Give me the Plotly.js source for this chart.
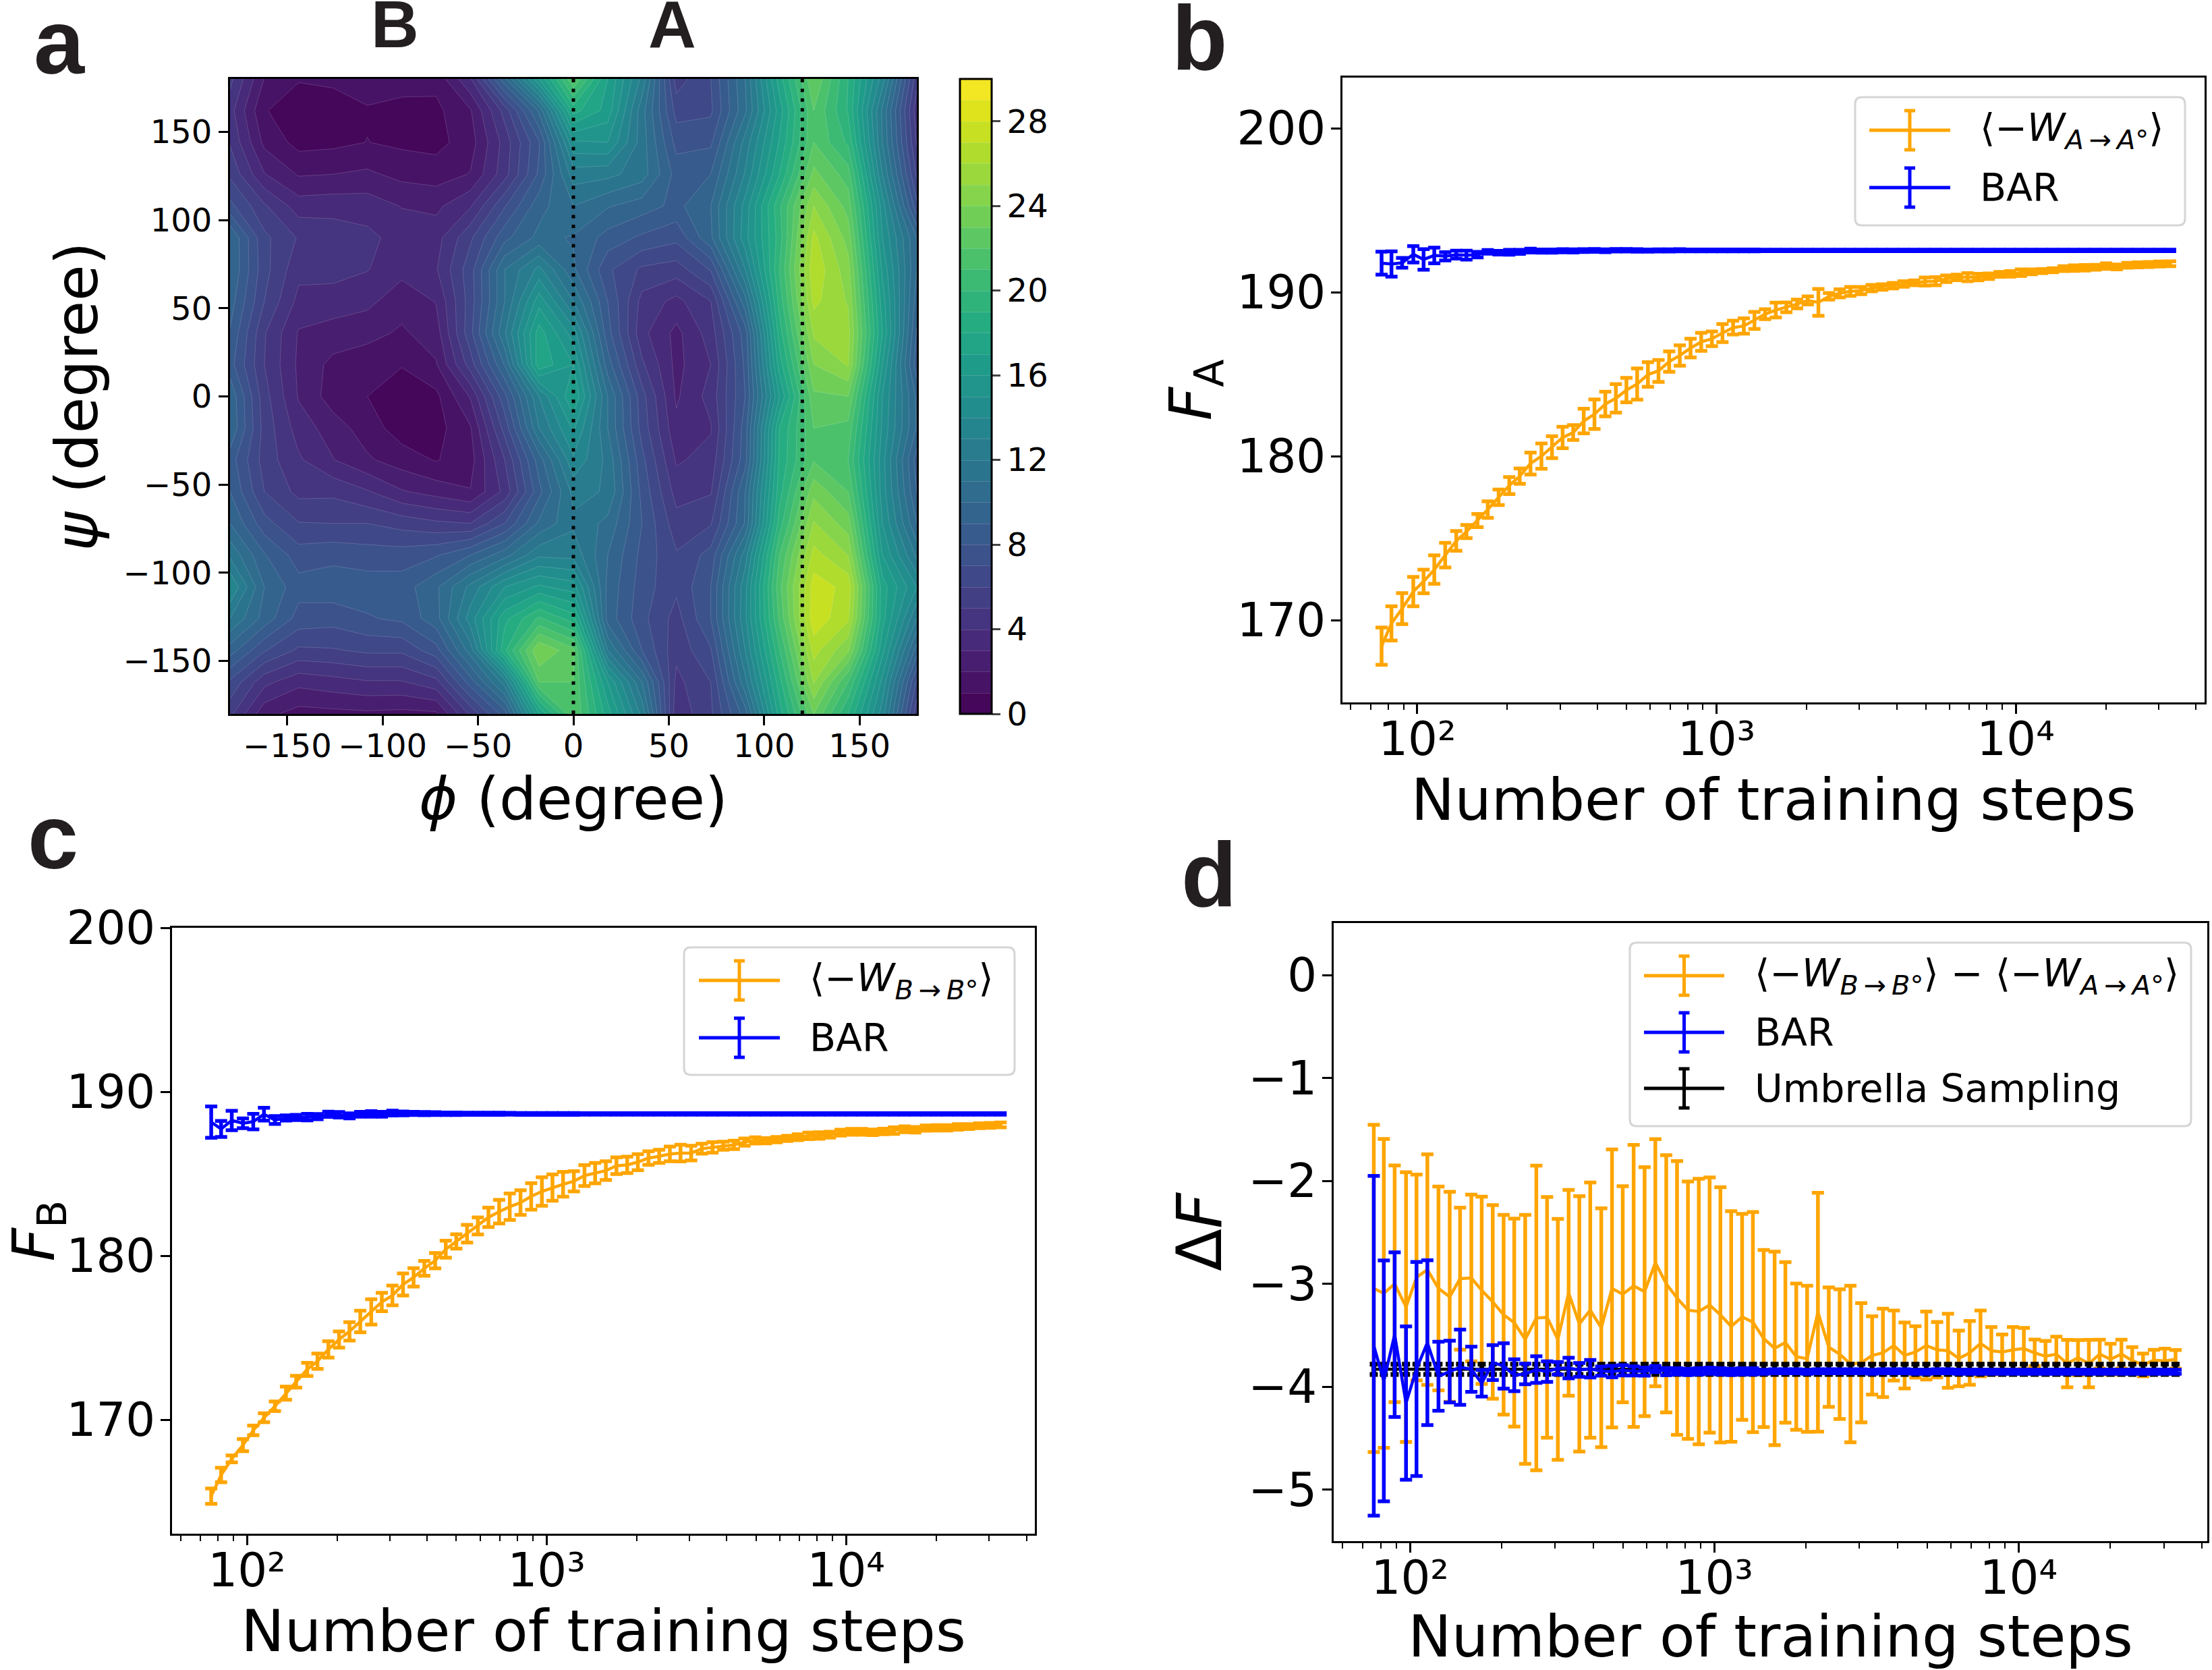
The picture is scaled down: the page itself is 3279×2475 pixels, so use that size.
<!DOCTYPE html>
<html>
<head>
<meta charset="utf-8">
<script src="https://cdn.plot.ly/plotly-2.35.2.min.js"></script>
<style>html,body{margin:0;padding:0;background:#fff}</style>
</head>
<body>
<div id="myDiv" style="width:3279px;height:2475px"></div>
<script>
// number of training steps, shared by panels b, c, d
let steps = [76,82,89,97,105,114,124,135,146,159,172,187,203,220,239,260,282,306,332,360,391,425,461,500,543,590,640,695,754,819,889,965,1047,1136,1234,1339,1453,1578,1712,1859,2018,2190,2377,2581,2801,3040,3300,3582,3889,4221,4581,4973,5398,5860,6360,6904,7494,8134,8830,9585,10404,11293,12258,13305,14443,15677,17017,18471,20050,21764,23624,25643,27835,30215,32797];
let stepTicks = [100,1000,10000];
let stepLabels = ['10\u00b2','10\u00b3','10\u2074'];

// panel b
let fAWork = [168.41,169.80,170.70,171.74,172.36,173.08,173.96,174.83,175.40,176.07,176.74,177.49,178.21,178.78,179.55,180.00,180.55,181.14,181.44,182.14,182.56,183.18,183.53,184.03,184.40,184.98,185.20,185.77,186.14,186.59,186.97,187.16,187.51,187.84,187.94,188.28,188.66,188.91,189.08,189.28,189.50,189.38,189.75,189.93,190.05,190.10,190.25,190.32,190.40,190.50,190.57,190.65,190.67,190.82,190.90,190.92,190.92,190.97,191.09,191.12,191.19,191.24,191.29,191.34,191.44,191.47,191.49,191.52,191.59,191.54,191.64,191.67,191.69,191.72,191.74];
let fAWorkErr = [1.14,1.04,.95,.90,.72,.87,.75,.60,.40,.40,.50,.47,.52,.47,.67,.77,.67,.65,.45,.75,.90,.75,.87,.75,.95,.75,.67,.62,.62,.57,.55,.45,.55,.42,.47,.52,.30,.45,.30,.27,.25,.82,.20,.25,.27,.22,.20,.17,.17,.17,.15,.25,.25,.20,.17,.25,.20,.17,.15,.17,.20,.15,.12,.12,.15,.17,.17,.15,.17,.15,.15,.15,.15,.15,.15];
let fABar = [191.77,191.72,191.79,192.31,192.00,192.24,192.19,192.29,192.26,192.29,192.46,192.41,192.44,192.46,192.54,192.51,192.51,192.53,192.52,192.54,192.55,192.53,192.56,192.56,192.55,192.54,192.55,192.55,192.56,192.55,192.55,192.55,192.55,192.55,192.55,192.55,192.55,192.55,192.55,192.55,192.55,192.55,192.55,192.55,192.55,192.55,192.55,192.55,192.55,192.55,192.55,192.55,192.55,192.55,192.55,192.55,192.55,192.55,192.55,192.55,192.55,192.55,192.55,192.55,192.55,192.55,192.55,192.55,192.55,192.55,192.55,192.55,192.55,192.55,192.55];
let fABarErr = [.70,.77,.30,.50,.63,.48,.25,.24,.27,.17,.11,.11,.15,.12,.12,.10,.10,.10,.10,.09,.09,.09,.08,.08,.08,.07,.07,.07,.07,.06,.06,.06,.06,.06,.06,.06,.05,.05,.05,.05,.05,.05,.05,.05,.05,.05,.05,.05,.05,.05,.05,.05,.05,.05,.05,.05,.05,.05,.05,.05,.05,.05,.05,.05,.05,.05,.05,.05,.05,.05,.05,.05,.05,.05,.05];

// panel c
let fBWork = [165.34,166.63,167.61,168.45,169.35,170.12,170.82,171.62,172.32,173.07,173.57,174.29,174.89,175.39,175.99,176.58,177.18,177.58,178.25,178.68,179.23,179.70,180.40,180.87,181.35,181.82,182.34,182.69,182.99,183.24,183.62,183.92,184.16,184.36,184.54,184.89,185.04,185.19,185.49,185.54,185.71,185.96,186.06,186.21,186.26,186.26,186.53,186.61,186.71,186.76,186.93,187.03,187.01,187.08,187.16,187.23,187.31,187.33,187.38,187.51,187.56,187.56,187.53,187.58,187.63,187.71,187.68,187.78,187.80,187.80,187.86,187.88,187.93,187.95,187.98];
let fBWorkErr = [.47,.44,.21,.37,.29,.27,.29,.40,.36,.40,.47,.50,.49,.56,.66,.77,.56,.60,.67,.56,.45,.47,.52,.44,.54,.52,.59,.72,.81,.75,.81,.87,.80,.76,.62,.64,.62,.57,.51,.50,.49,.41,.40,.45,.51,.45,.30,.32,.25,.26,.22,.19,.16,.16,.16,.18,.20,.20,.18,.18,.18,.18,.17,.17,.20,.18,.17,.16,.16,.16,.17,.15,.15,.15,.15];
let fBBar = [188.15,187.73,188.25,188.08,188.18,188.63,188.28,188.40,188.43,188.45,188.48,188.63,188.60,188.53,188.63,188.65,188.63,188.70,188.68,188.68,188.67,188.67,188.66,188.66,188.66,188.66,188.66,188.66,188.66,188.65,188.65,188.65,188.65,188.65,188.65,188.65,188.65,188.65,188.65,188.65,188.65,188.65,188.65,188.65,188.65,188.65,188.65,188.65,188.65,188.65,188.65,188.65,188.65,188.65,188.65,188.65,188.65,188.65,188.65,188.65,188.65,188.65,188.65,188.65,188.65,188.65,188.65,188.65,188.65,188.65,188.65,188.65,188.65,188.65,188.65];
let fBBarErr = [.96,.49,.59,.30,.47,.39,.24,.16,.16,.20,.16,.16,.17,.15,.15,.17,.15,.15,.12,.10,.10,.09,.08,.08,.07,.07,.07,.07,.06,.06,.06,.06,.06,.06,.06,.05,.05,.05,.05,.05,.05,.05,.05,.05,.05,.05,.05,.05,.05,.05,.05,.05,.05,.05,.05,.05,.05,.05,.05,.05,.05,.05,.05,.05,.05,.05,.05,.05,.05,.05,.05,.05,.05,.05,.05];

// panel d
let dFWork = [-3.045,-3.093,-3.000,-3.226,-2.938,-2.862,-3.045,-3.126,-2.950,-2.943,-3.063,-3.176,-3.301,-3.377,-3.540,-3.331,-3.326,-3.540,-3.088,-3.389,-3.256,-3.427,-3.045,-3.101,-3.020,-3.076,-2.795,-3.000,-3.138,-3.256,-3.269,-3.206,-3.301,-3.414,-3.321,-3.372,-3.532,-3.627,-3.570,-3.708,-3.728,-3.276,-3.615,-3.683,-3.779,-3.767,-3.696,-3.671,-3.600,-3.696,-3.662,-3.600,-3.641,-3.650,-3.725,-3.671,-3.579,-3.650,-3.662,-3.641,-3.629,-3.671,-3.704,-3.683,-3.775,-3.717,-3.775,-3.683,-3.733,-3.683,-3.746,-3.788,-3.742,-3.750,-3.733];
let dFWorkErr = [1.59,1.50,1.15,1.31,1.00,1.12,.99,1.02,.69,.81,.91,.94,.97,1.01,1.21,1.48,1.17,1.17,1.00,1.24,1.24,1.16,1.35,1.05,1.37,1.21,1.20,1.25,1.33,1.25,1.29,1.24,1.24,1.12,1.00,1.07,.86,.94,.78,.71,.71,1.16,.58,.63,.76,.58,.38,.43,.34,.32,.25,.33,.27,.36,.27,.31,.32,.23,.17,.22,.20,.13,.15,.17,.23,.17,.23,.14,.15,.14,.13,.11,.10,.12,.09];
let dFBar = [-3.602,-3.943,-3.494,-4.159,-3.828,-3.572,-3.898,-3.853,-3.810,-3.830,-3.966,-3.765,-3.798,-3.888,-3.876,-3.833,-3.853,-3.820,-3.818,-3.836,-3.825,-3.848,-3.853,-3.841,-3.846,-3.853,-3.828,-3.853,-3.850,-3.855,-3.850,-3.845,-3.850,-3.855,-3.850,-3.850,-3.855,-3.850,-3.850,-3.850,-3.855,-3.850,-3.850,-3.850,-3.850,-3.850,-3.855,-3.850,-3.850,-3.850,-3.855,-3.855,-3.850,-3.850,-3.855,-3.855,-3.855,-3.855,-3.855,-3.855,-3.855,-3.855,-3.855,-3.855,-3.855,-3.855,-3.855,-3.855,-3.855,-3.855,-3.855,-3.855,-3.855,-3.855,-3.855];
let dFBarErr = [1.65,1.17,.80,.745,1.04,.80,.335,.30,.365,.22,.13,.17,.22,.155,.10,.13,.10,.06,.10,.067,.085,.044,.056,.05,.044,.04,.03,.035,.03,.03,.03,.03,.03,.03,.03,.03,.02,.02,.02,.02,.02,.02,.02,.02,.02,.02,.02,.02,.02,.02,.02,.02,.02,.02,.02,.02,.02,.02,.02,.02,.02,.02,.02,.02,.02,.02,.02,.02,.02,.02,.02,.02,.02,.02,.02];
let dFUmbrella = [-3.83,-3.83,-3.83,-3.83,-3.83,-3.83,-3.83,-3.83,-3.83,-3.83,-3.83,-3.83,-3.83,-3.83,-3.83,-3.83,-3.83,-3.83,-3.83,-3.83,-3.83,-3.83,-3.83,-3.83,-3.83,-3.83,-3.83,-3.83,-3.83,-3.83,-3.83,-3.83,-3.83,-3.83,-3.83,-3.83,-3.83,-3.83,-3.83,-3.83,-3.83,-3.83,-3.83,-3.83,-3.83,-3.83,-3.83,-3.83,-3.83,-3.83,-3.83,-3.83,-3.83,-3.83,-3.83,-3.83,-3.83,-3.83,-3.83,-3.83,-3.83,-3.83,-3.83,-3.83,-3.83,-3.83,-3.83,-3.83,-3.83,-3.83,-3.83,-3.83,-3.83,-3.83,-3.83];
let dFUmbrellaErr = [.05,.05,.05,.05,.05,.05,.05,.05,.05,.05,.05,.05,.05,.05,.05,.05,.05,.05,.05,.05,.05,.05,.05,.05,.05,.05,.05,.05,.05,.05,.05,.05,.05,.05,.05,.05,.05,.05,.05,.05,.05,.05,.05,.05,.05,.05,.05,.05,.05,.05,.05,.05,.05,.05,.05,.05,.05,.05,.05,.05,.05,.05,.05,.05,.05,.05,.05,.05,.05,.05,.05,.05,.05,.05,.05];

// panel a, free energy surface on an 18 degree grid, rows go up in psi
let phi = [-180,-162,-144,-126,-108,-90,-72,-54,-36,-18,0,18,36,54,72,90,108,126,144,162,180];
let psi = [-180,-162,-144,-126,-108,-90,-72,-54,-36,-18,0,18,36,54,72,90,108,126,144,162,180];
let energy = [
[5.3,2.3,1.6,1.7,1.8,1.7,1.8,5.2,8.5,17,22,17.5,12.7,4.3,5.8,9.5,17.5,23,19,13.5,5.3],
[6.8,4.3,3.3,3.6,3.9,3.9,4.65,8.5,12.5,22,22,16,11,4.7,6,11.7,18.6,25.1,21,14.7,6.8],
[9.5,7.1,5.8,5.9,6.2,6.2,7.6,11.5,18.8,24,22.3,12,8,5.3,6.9,13,19.9,26.4,24.2,16.3,9.5],
[12,9.6,7.6,7.4,7.9,8.2,9.6,13.5,17.7,20.2,18.5,9.6,7.3,5.6,8,13.8,21.2,27.7,26.2,17.4,12],
[14,10,8.4,8.6,8.5,8.5,9.8,12.3,15,16.2,15.5,9.7,7.5,6.2,8,13.7,21.7,27.5,26.7,17.5,14],
[11.8,9.1,7.5,7.7,7.5,7.5,7.9,9,10.6,12.8,12.7,10,7.7,6.1,7.4,12.5,21,26.4,25,16,11.8],
[10,7.4,6.05,6,6,5.6,5.2,5,7,10.2,11.8,10.7,8,5.4,5.9,10.1,19.5,25.1,23.5,15,10],
[9,6,4.7,4.75,4.1,3.1,2.6,2.05,4.3,8.7,12.3,11.9,7.7,4.6,4.9,10,18.6,23.7,22,14.5,9],
[8.5,5.55,4.15,3.05,2.15,1.5,.93,1.6,5,9.5,13.8,11.7,7.3,3.85,4.4,8.6,18.2,21.9,21,14.4,8.5],
[9.9,5.6,3.55,2.5,1.5,.5,.6,1.9,6.4,12,15.2,11,6.6,3.25,3.9,8.5,18,22,21.7,14.8,9.9],
[9.8,5.4,2.9,1.5,1,.5,.75,3.1,7.7,13,17,11,6.4,2.85,4.4,8,16,22.8,23,15,9.8],
[8.4,5,2.8,1.7,1.39,1.05,1.9,5.5,10.1,17.7,16,9.5,5.2,2.7,4,8.2,17.5,24,25.1,16,8.4],
[8.9,5.1,2.9,2.6,2.33,1.85,2.5,6.7,11.9,17.5,14.5,8.4,4.3,2.7,4.5,8.5,18.5,25.2,25.4,17,8.9],
[9.5,6,3.7,3.5,3.27,2.4,3.05,6.5,11,15.6,12,8,4.65,3.7,5,10.6,19.4,26.3,24.9,16.5,9.5],
[10,6.35,4.3,4.4,4.05,3.3,3.9,6.6,11,13.3,10.2,7.2,5.8,5.5,7.1,13,20,26.8,24.4,15.8,10],
[10,6.25,4.9,4.6,4.26,3.6,3.6,5.8,8.7,10.3,9.9,8.6,7.8,7.3,9.8,14.6,19.5,26.3,23.6,15,10],
[7.3,5.15,3.5,3.6,3.54,2.95,2.75,3.9,6.9,9.6,11,10.1,9.5,8.7,10,14.4,19.8,25,22.6,14.5,7.3],
[5.8,3.05,1.9,2,2.19,1.7,1.55,2.05,4.6,8.2,12.5,12.3,11.5,8.6,9,13.1,18,23.3,21.5,13,5.8],
[4.9,1.75,.65,.75,1.02,.8,.65,1.55,4.4,7.9,14.8,15,11.5,7.65,7.8,12.4,17.1,22,19.8,12,4.9],
[4.4,1.05,.6,.5,.9,.7,.75,1.9,5.4,10.2,18.4,16.6,11.4,6.6,6.8,10.8,16.5,22,18.9,11.8,4.4],
[5.3,1.95,1.05,1.2,1.5,1.4,1.3,3.9,9.8,16,22,17,12.7,5.5,7,11,17.5,23,19,13.5,5.3]
];
let colorTicks = [0,4,8,12,16,20,24,28];
let angleTicks = [-150,-100,-50,0,50,100,150];
let cuts = [0,120];
let cutEnds = [-180,180];

let W = 3279, H = 2475;
let ORANGE = '#ffa500', BLUE = '#0000ff', BLACK = '#000000';
let FONT = 'DejaVu Sans';

function px(x){ return x / W; }
function py(y){ return 1 - y / H; }

// one error bar series of panels b, c, d
function series(y, err, color, xa, ya, thick, capw){
    return {
        type: 'scatter', mode: 'lines', x: steps, y: y, xaxis: xa, yaxis: ya,
        line: {color: color, width: 4.5},
        error_y: {type: 'data', array: err, visible: true, color: color, thickness: thick || 5.5, width: capw || 9},
        hoverinfo: 'skip', showlegend: false
    };
}

let data = [
    {
        type: 'contour', x: phi, y: psi, z: energy, xaxis: 'x', yaxis: 'y',
        zmin: 0, zmax: 30, colorscale: 'Viridis', autocontour: false,
        contours: {start: 0, end: 30, size: 1, coloring: 'fill', showlines: true},
        line: {smoothing: 0, width: 1, color: 'rgba(255,255,255,0.16)'},
        colorbar: {
            x: px(1423), xanchor: 'left', thickness: 47, thicknessmode: 'pixels',
            y: py(117), yanchor: 'top', len: (1058 - 117) / H, lenmode: 'fraction',
            xpad: 0, ypad: 0, outlinewidth: 3, outlinecolor: BLACK,
            ticks: 'outside', ticklen: 12, tickwidth: 3, tickvals: colorTicks,
            tickfont: {family: FONT, size: 48, color: BLACK}
        }
    },
    {type: 'scatter', mode: 'lines', x: [cuts[0], cuts[0]], y: cutEnds, xaxis: 'x', yaxis: 'y',
     line: {color: BLACK, width: 5, dash: '5px,9.4px'}, showlegend: false},
    {type: 'scatter', mode: 'lines', x: [cuts[1], cuts[1]], y: cutEnds, xaxis: 'x', yaxis: 'y',
     line: {color: BLACK, width: 5, dash: '5px,9.4px'}, showlegend: false},
    series(fAWork, fAWorkErr, ORANGE, 'x2', 'y2'),
    series(fABar, fABarErr, BLUE, 'x2', 'y2'),
    series(fBWork, fBWorkErr, ORANGE, 'x3', 'y3'),
    series(fBBar, fBBarErr, BLUE, 'x3', 'y3'),
    series(dFWork, dFWorkErr, ORANGE, 'x4', 'y4'),
    series(dFUmbrella, dFUmbrellaErr, BLACK, 'x4', 'y4', 7, 6),
    series(dFBar, dFBarErr, BLUE, 'x4', 'y4')
];

function baseAxis(size){
    return {
        showgrid: false, zeroline: false, showline: true, linecolor: BLACK, linewidth: 3, mirror: true,
        ticks: 'outside', ticklen: 14, tickwidth: 3, tickcolor: BLACK,
        tickfont: {family: FONT, size: size, color: BLACK}, automargin: false
    };
}
function stepAxis(x0, x1, range, anchor, standoff){
    return Object.assign(baseAxis(69), {
        type: 'log', domain: [px(x0), px(x1)], range: range, anchor: anchor,
        tickvals: stepTicks, ticktext: stepLabels, ticklabelstandoff: -22,
        minor: {ticks: 'outside', ticklen: 8, tickwidth: 2, tickcolor: BLACK, dtick: 'D1', showgrid: false},
        title: {text: 'Number of training steps', font: {family: FONT, size: 86, color: BLACK}, standoff: standoff}
    });
}
function valueAxis(y0, y1, range, anchor, dtick, title, size, standoff){
    return Object.assign(baseAxis(69), {
        domain: [py(y1), py(y0)], range: range, anchor: anchor, dtick: dtick, ticklabelstandoff: -6,
        title: {text: title, font: {family: FONT, size: size, color: BLACK}, standoff: standoff}
    });
}

// hand drawn legend boxes, the library legend has no error bar keys
let shapes = [];
let annotations = [];
function addLegend(box, keyX0, keyX1, textX, rows){
    let r = 10;
    let l = px(box[0]), rt = px(box[1]), t = py(box[2]), b = py(box[3]);
    let dx = r / W, dy = r / H;
    shapes.push({
        type: 'path', xref: 'paper', yref: 'paper', layer: 'above',
        path: 'M' + (l + dx) + ',' + t + ' L' + (rt - dx) + ',' + t + ' Q' + rt + ',' + t + ' ' + rt + ',' + (t - dy) +
              ' L' + rt + ',' + (b + dy) + ' Q' + rt + ',' + b + ' ' + (rt - dx) + ',' + b +
              ' L' + (l + dx) + ',' + b + ' Q' + l + ',' + b + ' ' + l + ',' + (b + dy) +
              ' L' + l + ',' + (t - dy) + ' Q' + l + ',' + t + ' ' + (l + dx) + ',' + t + ' Z',
        line: {color: '#d5d5d5', width: 3}, fillcolor: 'rgba(255,255,255,0.8)'
    });
    let mid = (keyX0 + keyX1) / 2;
    rows.forEach(function(row){
        let ln = {color: row.color, width: 5};
        let s = {type: 'line', xref: 'paper', yref: 'paper', layer: 'above', line: ln};
        shapes.push(Object.assign({}, s, {x0: px(keyX0), x1: px(keyX1), y0: py(row.y), y1: py(row.y)}));
        shapes.push(Object.assign({}, s, {x0: px(mid), x1: px(mid), y0: py(row.y - 29), y1: py(row.y + 29)}));
        shapes.push(Object.assign({}, s, {x0: px(mid - 8), x1: px(mid + 8), y0: py(row.y - 29), y1: py(row.y - 29)}));
        shapes.push(Object.assign({}, s, {x0: px(mid - 8), x1: px(mid + 8), y0: py(row.y + 29), y1: py(row.y + 29)}));
        annotations.push({
            xref: 'paper', yref: 'paper', x: px(textX), y: py(row.y), xanchor: 'left', yanchor: 'middle',
            text: row.text, showarrow: false, font: {family: FONT, size: 57, color: BLACK}
        });
    });
}
let wA = '\u27e8\u2212<i>W</i><sub><i>A\u2009\u2192\u2009A\u00b0</i></sub>\u27e9';
let wB = '\u27e8\u2212<i>W</i><sub><i>B\u2009\u2192\u2009B\u00b0</i></sub>\u27e9';
addLegend([2750, 3239, 144, 334], 2771, 2891, 2933, [
    {y: 193, color: ORANGE, text: wA}, {y: 278, color: BLUE, text: 'BAR'}]);
addLegend([1014, 1504, 1404, 1593], 1036, 1156, 1198, [
    {y: 1453, color: ORANGE, text: wB}, {y: 1538, color: BLUE, text: 'BAR'}]);
addLegend([2416, 3248, 1397, 1669], 2437, 2556, 2599, [
    {y: 1446, color: ORANGE, text: wB + ' \u2212 ' + wA}, {y: 1530, color: BLUE, text: 'BAR'},
    {y: 1613, color: BLACK, text: 'Umbrella Sampling'}]);

// panel letters and the A, B marks
function addLabel(text, x, y, size){
    annotations.push({
        xref: 'paper', yref: 'paper', x: px(x), y: py(y), xanchor: 'center', yanchor: 'middle',
        text: '<b>' + text + '</b>', showarrow: false,
        font: {family: 'Liberation Sans', size: size, color: '#231f20'}
    });
}
addLabel('a', 88, 62, 135);
addLabel('b', 1778, 56, 135);
addLabel('c', 78, 1240, 135);
addLabel('d', 1792, 1296, 135);
addLabel('B', 585, 36, 98);
addLabel('A', 996, 36, 98);

let layout = {
    width: W, height: H,
    margin: {l: 0, r: 0, t: 0, b: 0},
    paper_bgcolor: '#ffffff', plot_bgcolor: '#ffffff',
    showlegend: false,
    xaxis: Object.assign(baseAxis(48), {
        domain: [px(341), px(1359)], range: [-180, 180], anchor: 'y', tickvals: angleTicks, ticklabelstandoff: -11,
        title: {text: '<i>\u03d5</i> (degree)', font: {family: FONT, size: 87, color: BLACK}, standoff: 14}
    }),
    yaxis: Object.assign(baseAxis(48), {
        domain: [py(1058), py(117)], range: [-180, 180], anchor: 'x', tickvals: angleTicks,
        title: {text: '<i>\u03c8</i> (degree)', font: {family: FONT, size: 87, color: BLACK}, standoff: 10}
    }),
    xaxis2: stepAxis(1990, 3268, [1.75, 4.631], 'y2', 0),
    yaxis2: valueAxis(115, 1041, [164.98, 203.09], 'x2', 10, '<i>F</i><sub>A</sub>', 86, 10),
    xaxis3: stepAxis(255, 1534, [1.75, 4.63], 'y3', 4),
    yaxis3: valueAxis(1375, 2273, [163.05, 200], 'x3', 10, '<i>F</i><sub>B</sub>', 86, 30),
    xaxis4: stepAxis(1977, 3272, [1.749, 4.62], 'y4', 10),
    yaxis4: valueAxis(1368, 2284, [-5.5, 0.505], 'x4', 1, '\u0394<i>F</i>', 92, 10),
    shapes: shapes,
    annotations: annotations
};

Plotly.newPlot('myDiv', data, layout, {displayModeBar: false, staticPlot: true});
</script>
</body>
</html>
